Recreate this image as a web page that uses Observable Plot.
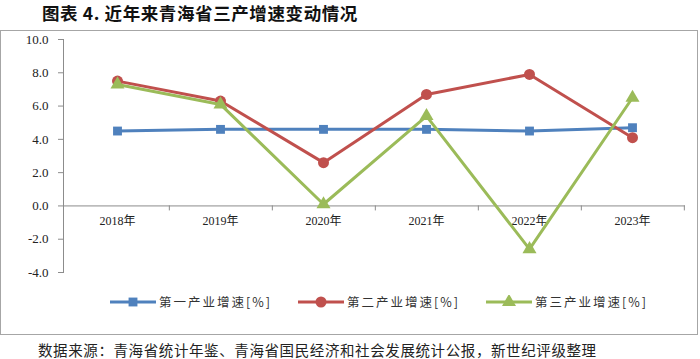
<!DOCTYPE html>
<html><head><meta charset="utf-8">
<script src="https://cdn.jsdelivr.net/npm/d3@7"></script>
<script src="https://cdn.jsdelivr.net/npm/@observablehq/plot@0.6"></script>
<style>
body{margin:0;background:#fff;width:700px;height:359px;position:relative;overflow:hidden;font-family:"Noto Sans CJK SC",sans-serif;}
#title{position:absolute;left:42px;top:0;line-height:26px;font-size:17.5px;font-weight:bold;color:#111;font-family:"Noto Sans CJK SC";letter-spacing:0.6px;}
#frame{position:absolute;left:0;top:30px;width:696px;height:303px;border:1px solid #a6a6a6;}
#chart{position:absolute;left:0;top:0;}
#legend{position:absolute;left:109px;top:261px;display:flex;}
.item{display:flex;align-items:center;width:188px;font-size:12.5px;color:#333;letter-spacing:2px;}
.item svg{margin-right:3px;}
#caption{position:absolute;left:38px;top:340px;font-size:14.5px;letter-spacing:0.6px;color:#222;line-height:20px;}
</style></head>
<body>
<div id="title">图表 4. 近年来青海省三产增速变动情况</div>
<div id="frame"><div id="chart"></div><div id="legend"></div></div>
<div id="caption">数据来源：青海省统计年鉴、青海省国民经济和社会发展统计公报，新世纪评级整理</div>
<script>
const years = ["2018","2019","2020","2021","2022","2023"];
const primary = [4.5, 4.6, 4.6, 4.6, 4.5, 4.7];
const secondary = [7.5, 6.3, 2.6, 6.7, 7.9, 4.1];
const tertiary = [7.3, 6.1, 0.1, 5.4, -2.6, 6.5];
const seriesNames = ["第一产业增速[%]", "第二产业增速[%]", "第三产业增速[%]"];
const yTicks = [-4, -2, 0, 2, 4, 6, 8, 10];

const colors = ["#4F81BD", "#C0504D", "#9BBB59"];
const symbols = ["square", "circle", "triangle"];
const radii = [5, 5.5, 5.2];
const seriesVals = [primary, secondary, tertiary];

const W = 696, H = 255, mL = 62, mR = 12, mT = 8, mB = 14;
const step = (W - mL - mR) / years.length;

const marks = [
  Plot.frame({anchor: "left", stroke: "#8c8c8c"}),
  Plot.ruleY([0], {stroke: "#8c8c8c"}),
  Plot.axisY(yTicks, {tickFormat: d => d.toFixed(1), tickSize: 5, tickPadding: 10, stroke: "#8c8c8c", fill: "#222", fontSize: 13, fontFamily: "Liberation Serif", label: null}),
  Plot.ruleX(years, {x: d => d, y1: 0, y2: -0.3, dx: step / 2, stroke: "#8c8c8c"}),
  Plot.text(years, {x: d => d, y: 0, text: d => d + "年", dy: 15, fontSize: 12, fontFamily: "Liberation Serif, Noto Sans CJK SC", fill: "#222"})
];
seriesVals.forEach((vals, i) => {
  const data = years.map((y, j) => ({year: y, v: vals[j]}));
  marks.push(Plot.line(data, {x: "year", y: "v", stroke: colors[i], strokeWidth: 3}));
  marks.push(Plot.dot(data, {x: "year", y: "v", symbol: symbols[i], r: radii[i], fill: colors[i], stroke: "none"}));
});

const chart = Plot.plot({
  width: W, height: H, marginLeft: mL, marginRight: mR, marginTop: mT, marginBottom: mB,
  x: {type: "point", domain: years, padding: 0.5, axis: null},
  y: {domain: [-4, 10], axis: null},
  style: {background: "transparent", overflow: "visible"},
  marks
});
document.getElementById("chart").appendChild(chart);

const legend = document.getElementById("legend");
seriesNames.forEach((name, i) => {
  const item = document.createElement("div");
  item.className = "item";
  const sym = {square: d3.symbolSquare, circle: d3.symbolCircle, triangle: d3.symbolTriangle}[symbols[i]];
  const path = d3.symbol(sym, Math.PI * radii[i] * radii[i])();
  item.innerHTML = `<svg width="46" height="14"><line x1="0" x2="46" y1="7" y2="7" stroke="${colors[i]}" stroke-width="3"/><path d="${path}" transform="translate(23,7)" fill="${colors[i]}"/></svg><span>${name}</span>`;
  legend.appendChild(item);
});
</script>
</body></html>
